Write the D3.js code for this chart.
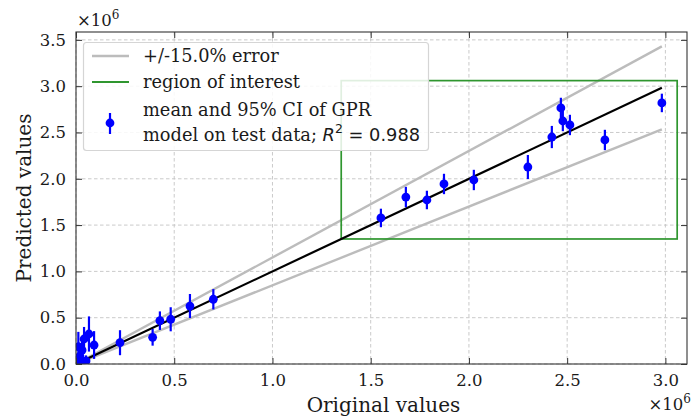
<!DOCTYPE html>
<html><head><meta charset="utf-8">
<script src="https://cdn.jsdelivr.net/npm/d3@7"></script>
<style>body{margin:0;background:#fff}svg{display:block}</style>
</head><body><svg id="c" width="691" height="416"></svg>
<script>
// Data (units of 1e6)
const originalValues = [0.005,0.012,0.015,0.02,0.03,0.031,0.041,0.051,0.066,0.092,0.224,0.39,0.427,0.482,0.580,0.699,1.552,1.679,1.786,1.873,2.025,2.300,2.422,2.468,2.478,2.514,2.692,2.982];
const predictedMean  = [0.02,0.187,0.04,0.086,0.01,0.151,0.27,0.033,0.324,0.205,0.230,0.288,0.468,0.483,0.626,0.699,1.577,1.803,1.771,1.944,1.987,2.127,2.451,2.765,2.624,2.581,2.419,2.819];
const ciHalfWidth    = [0.05,0.16,0.06,0.08,0.04,0.12,0.13,0.06,0.19,0.15,0.135,0.09,0.10,0.13,0.13,0.11,0.10,0.11,0.10,0.11,0.11,0.13,0.12,0.11,0.11,0.11,0.11,0.10];
const xTicks = [0.0,0.5,1.0,1.5,2.0,2.5,3.0];
const yTicks = [0.0,0.5,1.0,1.5,2.0,2.5,3.0,3.5];
const errorPct = 0.15;
const regionOfInterest = [1.35, 3.06];
const r2 = 0.988;
const legendLabels = ["+/-15.0% error","region of interest","mean and 95% CI of GPR","model on test data; "];

const svg = d3.select("#c");
const L=76,R=687,T=32,B=364;
const x = d3.scaleLinear().domain([0,3.11]).range([L,R]);
const y = d3.scaleLinear().domain([0,3.585]).range([B,T]);
const serif = "'DejaVu Serif', serif";
const sans = "'DejaVu Sans', sans-serif";
const txt = "#1a1a1a";

svg.append("defs").append("clipPath").attr("id","clip").append("rect")
  .attr("x",L).attr("y",T).attr("width",R-L).attr("height",B-T);

// grid
const grid = svg.append("g").attr("stroke","#c4c4c4").attr("stroke-width",0.9).attr("stroke-dasharray","3.5,2.5");
grid.selectAll(".gx").data(xTicks).join("line").attr("x1",d=>x(d)).attr("x2",d=>x(d)).attr("y1",T).attr("y2",B);
grid.selectAll(".gy").data(yTicks).join("line").attr("y1",d=>y(d)).attr("y2",d=>y(d)).attr("x1",L).attr("x2",R);

const plot = svg.append("g").attr("clip-path","url(#clip)");
const xmin = d3.min(originalValues), xmax = d3.max(originalValues);
// +/- error lines
[1+errorPct, 1-errorPct].forEach(f=>{
  plot.append("line").attr("x1",x(xmin)).attr("y1",y(xmin*f)).attr("x2",x(xmax)).attr("y2",y(xmax*f))
    .attr("stroke","#bcbcbc").attr("stroke-width",2.4);
});
// region of interest
plot.append("rect").attr("x",x(regionOfInterest[0])).attr("y",y(regionOfInterest[1]))
  .attr("width",x(regionOfInterest[1])-x(regionOfInterest[0])).attr("height",y(regionOfInterest[0])-y(regionOfInterest[1]))
  .attr("fill","none").attr("stroke","#2f962f").attr("stroke-width",1.7);
// identity
plot.append("line").attr("x1",x(xmin)).attr("y1",y(xmin)).attr("x2",x(xmax)).attr("y2",y(xmax))
  .attr("stroke","#000").attr("stroke-width",2.2);
// error bars
const pts = originalValues.map((v,i)=>({x:v,y:predictedMean[i],e:ciHalfWidth[i]}));
plot.selectAll(".eb").data(pts).join("line").attr("x1",d=>x(d.x)).attr("x2",d=>x(d.x))
  .attr("y1",d=>y(d.y-d.e)).attr("y2",d=>y(d.y+d.e)).attr("stroke","#0000ff").attr("stroke-width",2.2);
plot.selectAll(".pt").data(pts).join("circle").attr("cx",d=>x(d.x)).attr("cy",d=>y(d.y)).attr("r",4.4).attr("fill","#0000ff");

// axes (ticks inside, all sides)
const tickStyle = g=>{g.select(".domain").remove(); g.selectAll(".tick line").attr("stroke","#333").attr("stroke-width",1);};
const lblStyle = g=>g.selectAll("text").attr("font-family",serif).attr("font-size",16.5).attr("fill",txt);
svg.append("g").attr("transform",`translate(0,${B})`).call(d3.axisBottom(x).tickValues(xTicks).tickFormat(d3.format(".1f")).tickSizeInner(-6).tickPadding(10))
  .call(tickStyle).call(lblStyle);
svg.append("g").attr("transform",`translate(0,${T})`).call(d3.axisTop(x).tickValues(xTicks).tickFormat("").tickSizeInner(-6)).call(tickStyle);
svg.append("g").attr("transform",`translate(${L},0)`).call(d3.axisLeft(y).tickValues(yTicks).tickFormat(d3.format(".1f")).tickSizeInner(-6).tickPadding(10))
  .call(tickStyle).call(lblStyle);
svg.append("g").attr("transform",`translate(${R},0)`).call(d3.axisRight(y).tickValues(yTicks).tickFormat("").tickSizeInner(-6)).call(tickStyle);
svg.append("rect").attr("x",L).attr("y",T).attr("width",R-L).attr("height",B-T).attr("fill","none").attr("stroke","#333").attr("stroke-width",1.1);

// offset labels
const off = (xx,yy,anchor)=>{const t=svg.append("text").attr("x",xx).attr("y",yy).attr("text-anchor",anchor).attr("font-family",serif).attr("font-size",16.5).attr("fill",txt);
  t.append("tspan").text("×10"); t.append("tspan").attr("dy",-7).attr("font-size",12).text("6");};
off(77,26,"start"); off(691,410,"end");

// axis labels
svg.append("text").attr("x",(L+R)/2+2).attr("y",412).attr("text-anchor","middle").attr("font-family",serif).attr("font-size",20).attr("fill",txt).text("Original values");
svg.append("text").attr("transform",`translate(31,${(T+B)/2}) rotate(-90)`).attr("text-anchor","middle").attr("font-family",serif).attr("font-size",20).attr("fill",txt).text("Predicted values");

// legend
const lg = svg.append("g");
lg.append("rect").attr("x",83.5).attr("y",42.5).attr("width",345).attr("height",108).attr("rx",3)
  .attr("fill","rgba(255,255,255,0.85)").attr("stroke","#d5d5d5").attr("stroke-width",1.2);
lg.append("line").attr("x1",92).attr("x2",129).attr("y1",56).attr("y2",56).attr("stroke","#bcbcbc").attr("stroke-width",2.4);
lg.append("line").attr("x1",92).attr("x2",129).attr("y1",82).attr("y2",82).attr("stroke","#2f962f").attr("stroke-width",2);
lg.append("line").attr("x1",110).attr("x2",110).attr("y1",113).attr("y2",134).attr("stroke","#0000ff").attr("stroke-width",2.2);
lg.append("circle").attr("cx",110).attr("cy",123).attr("r",4.4).attr("fill","#0000ff");
const lt = (yy,s)=>lg.append("text").attr("x",143).attr("y",yy).attr("font-family",serif).attr("font-size",17.8).attr("fill",txt).text(s);
lt(62,legendLabels[0]); lt(88,legendLabels[1]); lt(116,legendLabels[2]);
const t4 = lt(141,legendLabels[3]);
t4.append("tspan").attr("font-family",sans).attr("font-style","italic").text("R");
t4.append("tspan").attr("font-family",sans).attr("font-size",12.5).attr("dy",-8).text("2");
t4.append("tspan").attr("font-family",sans).attr("dy",8).text(" = " + r2);
</script></body></html>
